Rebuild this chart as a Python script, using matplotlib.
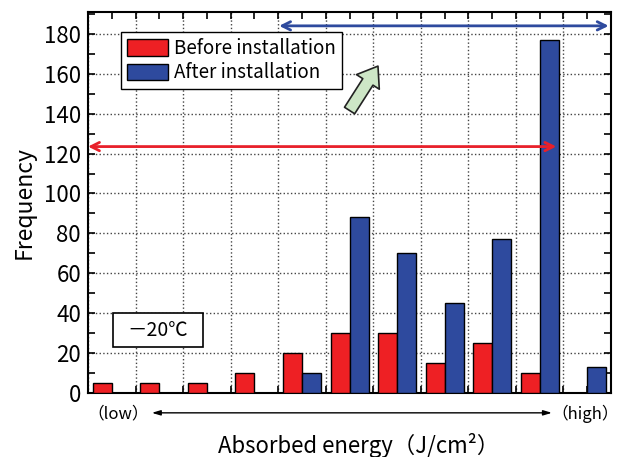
import matplotlib
matplotlib.use("Agg")
import matplotlib.pyplot as plt
import numpy as np
from matplotlib.patches import FancyArrowPatch, Rectangle

plt.rcParams['font.family'] = ['Noto Sans CJK JP', 'DejaVu Sans']

# frequency per absorbed-energy class (low -> high)
before = [5, 5, 5, 10, 20, 30, 30, 15, 25, 10, 0]
after = [0, 0, 0, 0, 10, 88, 70, 45, 77, 177, 13]
labels = ['Before installation', 'After installation']
colors = ['#ee2024', '#2e4a9e']
y_ticks = list(range(0, 181, 20))

groups = np.arange(len(before))

fig = plt.figure(figsize=(6.2, 4.57), dpi=100)
ax = fig.add_axes([0.142, 0.14, 0.8435, 0.834])

ax.bar(groups + 0.1, before, width=0.4, align='edge', color=colors[0],
       edgecolor='black', linewidth=1, zorder=3, label=labels[0])
ax.bar(groups + 0.5, after, width=0.4, align='edge', color=colors[1],
       edgecolor='black', linewidth=1, zorder=3, label=labels[1])

ax.set_xlim(0, len(before))
ax.set_ylim(0, 191)
ax.set_xticks(np.arange(0, len(before) + 1))
ax.set_xticks(np.arange(0.5, len(before), 1), minor=True)
ax.set_yticks(y_ticks)
ax.set_yticks(range(10, 191, 20), minor=True)
ax.tick_params(which='both', direction='in', top=True, right=True,
               length=5, width=1.2, labelbottom=False, labelsize=16, pad=5)
ax.grid(True, which='major', linestyle=':', color='#444444', linewidth=1)
ax.set_axisbelow(True)
for s in ax.spines.values():
    s.set_linewidth(1.5)

ax.set_ylabel('Frequency', fontsize=16.5, labelpad=6)
ax.set_xlabel('Absorbed energy（J/cm²）', fontsize=16)
ax.xaxis.set_label_coords(0.517, -0.105)

leg = ax.legend(loc='upper left', bbox_to_anchor=(0.063, 0.947), fancybox=False,
                edgecolor='black', framealpha=1, fontsize=13.5, handlelength=2.2,
                handleheight=1.0, borderpad=0.3, labelspacing=0.2,
                handletextpad=0.35, borderaxespad=0)
leg.get_frame().set_linewidth(1)

# temperature box
ax.add_patch(Rectangle((0.048, 0.121), 0.172, 0.089, transform=ax.transAxes,
                       fc='white', ec='black', lw=1.2, zorder=4))
ax.text(0.134, 0.165, '－20℃', transform=ax.transAxes, ha='center',
        va='center', fontsize=14, zorder=5)

# range arrows
ax.annotate('', xy=(0, 123.5), xytext=(9.85, 123.5),
            arrowprops=dict(arrowstyle='<->,head_length=0.6,head_width=0.3',
                            color='#e8202a', lw=2, shrinkA=0, shrinkB=0),
            annotation_clip=False, zorder=6)
ax.annotate('', xy=(4.02, 184), xytext=(10.95, 184),
            arrowprops=dict(arrowstyle='<->,head_length=0.6,head_width=0.3',
                            color='#2e4a9e', lw=2, shrinkA=0, shrinkB=0),
            annotation_clip=False, zorder=6)
ax.add_patch(FancyArrowPatch((5.47, 140.4), (6.13, 165),
                             arrowstyle='simple,head_width=1.3,head_length=0.9,tail_width=0.58',
                             mutation_scale=15, fc='#cde6c6', ec='#222222',
                             lw=1.2, zorder=6))

# low / high axis
ax.text(0.057, -0.055, '（low）', transform=ax.transAxes, ha='center',
        va='center', fontsize=12)
ax.text(0.95, -0.055, '（high）', transform=ax.transAxes, ha='center',
        va='center', fontsize=12)
ax.annotate('', xy=(0.122, -0.052), xytext=(0.887, -0.052),
            xycoords='axes fraction',
            arrowprops=dict(arrowstyle='<|-|>,head_length=0.5,head_width=0.15',
                            color='black', lw=1, shrinkA=0, shrinkB=0),
            annotation_clip=False)

fig.savefig('out.png', dpi=100)
